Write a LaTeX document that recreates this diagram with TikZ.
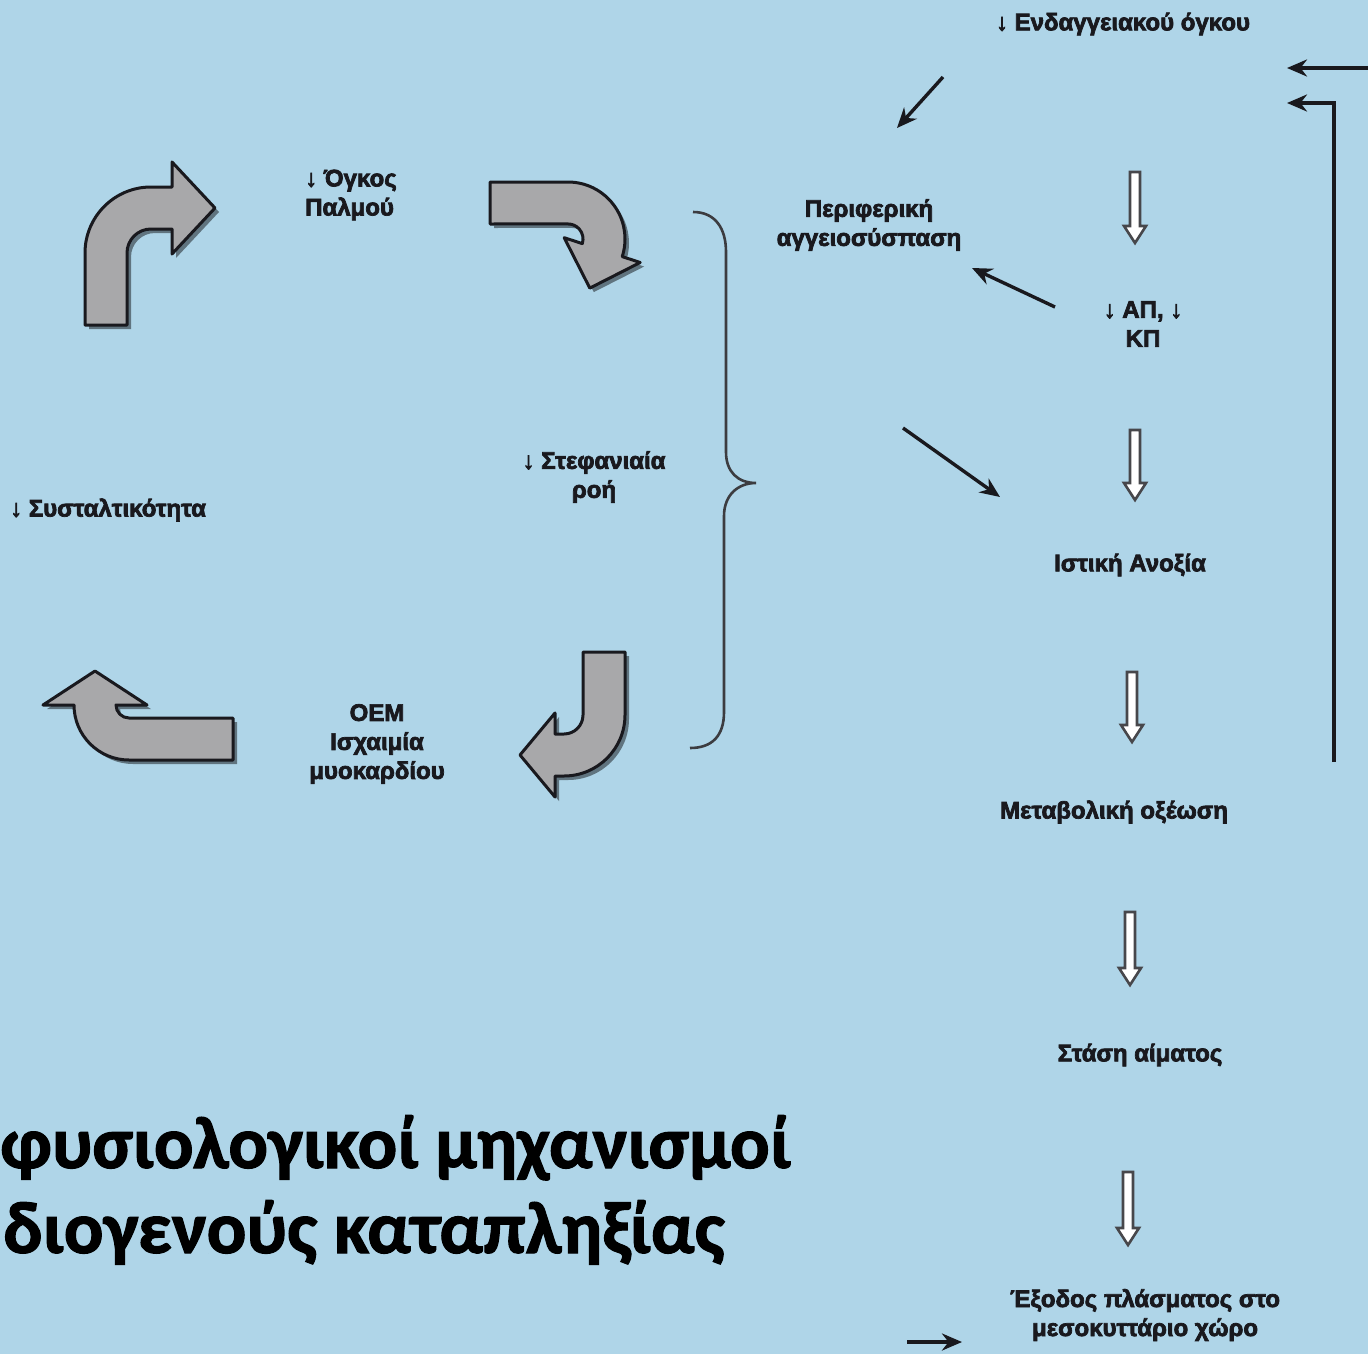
\documentclass[tikz,border=0pt]{standalone}
\usepackage{fontspec}
\setmainfont{Liberation Sans}[BoldFeatures={FakeBold=3}]
\newfontfamily\titlefont{Carlito}[BoldFeatures={FakeBold=1.5}]
\usetikzlibrary{arrows.meta,shadows,calc}
\definecolor{bg}{RGB}{175,213,232}
\definecolor{blockgray}{RGB}{168,168,170}
\definecolor{ink}{RGB}{25,25,30}
\begin{document}
\begin{tikzpicture}[x=1pt,y=-1pt,
  lbl/.style={font=\bfseries\fontsize{24}{29}\selectfont, text=ink, inner sep=0pt, align=center},
  titlestyle/.style={font=\titlefont\bfseries\fontsize{74}{90}\selectfont, text=black, inner sep=0pt},
  thinarrow/.style={draw=ink, line width=3.4pt, -{Stealth[length=20pt,width=17pt]}},
  hollowarr/.style={fill=white, draw=ink!80, line width=2.6pt, line join=miter},
  hollow/.style={to path={let \p1=(\tikztostart), \p2=(\tikztotarget) in
      (\x1-5pt,\y1) -- (\x1-5pt,\y2+17pt) -- (\x1-11pt,\y2+17pt) -- (\x1,\y2)
      -- (\x1+11pt,\y2+17pt) -- (\x1+5pt,\y2+17pt) -- (\x1+5pt,\y1) -- cycle}},
  block/.style={fill=blockgray, draw=ink, line width=3pt, line join=round,
      drop shadow={shadow xshift=4pt, shadow yshift=-4pt, opacity=0.45, fill=black}},
  bracestyle/.style={draw=ink!85, line width=2.6pt}
]
\fill[bg] (0,0) rectangle (1368,1354);
\useasboundingbox (0,0) rectangle (1368,1354);

% ---- labels
\node[lbl] (endag) at (1123,24) {↓ Ενδαγγειακού όγκου};
\node[lbl, align=left, anchor=west] (ogkos) at (305,195) {↓ Όγκος\\Παλμού};
\node[lbl] (perif) at (869,225) {Περιφερική\\αγγειοσύσπαση};
\node[lbl] (apkp) at (1143,324) {↓ ΑΠ, ↓\\ΚΠ};
\node[lbl] (stef) at (594,477) {↓ Στεφανιαία\\ροή};
\node[lbl, anchor=west] (sysp) at (10,510) {↓ Συσταλτικότητα};
\node[lbl] (oem) at (377,744) {ΟΕΜ\\Ισχαιμία\\μυοκαρδίου};
\node[lbl] (anox) at (1130,565) {Ιστική Ανοξία};
\node[lbl] (metab) at (1114,812) {Μεταβολική οξέωση};
\node[lbl] (stasi) at (1140,1055) {Στάση αίματος};
\node[lbl] (exodos) at (1145,1315) {Έξοδος πλάσματος στο\\μεσοκυττάριο χώρο};

% ---- title
\node[titlestyle, anchor=base west] (t1) at (0,1168) {φυσιολογικοί μηχανισμοί};
\node[titlestyle, anchor=base west] (t2) at (3,1253) {διογενούς καταπληξίας};

% ---- block arrows (cycle)
\path[block] (85,325) -- (85,253) arc[start angle=180,end angle=270,radius=66]
  -- (172,187) -- (172,162) -- (215,208) -- (172,254) -- (172,229) -- (151,229)
  arc[start angle=270,end angle=180,radius=24] -- (127,325) -- cycle;
\path[block] (490,182) -- (568,182) arc[start angle=-90,end angle=18,radius=57]
  -- (640.2,262.5) -- (589.8,288.1) -- (564.2,237.7) -- (582.3,243.6)
  arc[start angle=18,end angle=-90,radius=15] -- (490,224) -- cycle;
\path[block] (625,652) -- (625,715) arc[start angle=0,end angle=90,radius=61]
  -- (555,776) -- (555,797) -- (520,755) -- (555,713) -- (555,734) -- (564,734)
  arc[start angle=90,end angle=0,radius=19] -- (583,652) -- cycle;
\path[block] (233,760) -- (129,760) arc[start angle=90,end angle=180,radius=55]
  -- (43,705) -- (95,671) -- (147,705) -- (116,705)
  arc[start angle=180,end angle=90,radius=13] -- (233,718) -- cycle;

% ---- brace
\draw[bracestyle] (693,212) .. controls (715,212) and (726,228) .. (726,252)
  -- (726,452) .. controls (726,472) and (738,483) .. (756,483)
  .. controls (738,483) and (724,495) .. (724,516)
  -- (724,712) .. controls (724,736) and (712,748) .. (690,748);

% ---- hollow arrows
\coordinate (h1s) at (1135,172); \coordinate (h1e) at (1135,243);
\coordinate (h2s) at (1135,430); \coordinate (h2e) at (1135,500);
\coordinate (h3s) at (1132,672); \coordinate (h3e) at (1132,742);
\coordinate (h4s) at (1130,912); \coordinate (h4e) at (1130,985);
\coordinate (h5s) at (1128,1172); \coordinate (h5e) at (1128,1245);
\foreach \i in {1,...,5} {\draw[hollowarr] (h\i s) to[hollow] (h\i e);}

% ---- thin arrows
\coordinate (a1s) at (943,77);  \coordinate (a1e) at (897,128);
\coordinate (a2s) at (1055,307); \coordinate (a2e) at (972,268);
\coordinate (a3s) at (903,428); \coordinate (a3e) at (1000,497);
\coordinate (fb0) at (1334,762); \coordinate (fb1) at (1287,103);
\coordinate (fr0) at (1368,68); \coordinate (fr1) at (1287,68);
\coordinate (b0) at (907,1342); \coordinate (b1) at (962,1342);
\draw[thinarrow] (a1s) -- (a1e);
\draw[thinarrow] (a2s) -- (a2e);
\draw[thinarrow] (a3s) -- (a3e);
\draw[thinarrow] (fb0) |- (fb1);
\draw[thinarrow] (fr0) -- (fr1);
\draw[thinarrow] (b0) -- (b1);
\end{tikzpicture}
\end{document}
